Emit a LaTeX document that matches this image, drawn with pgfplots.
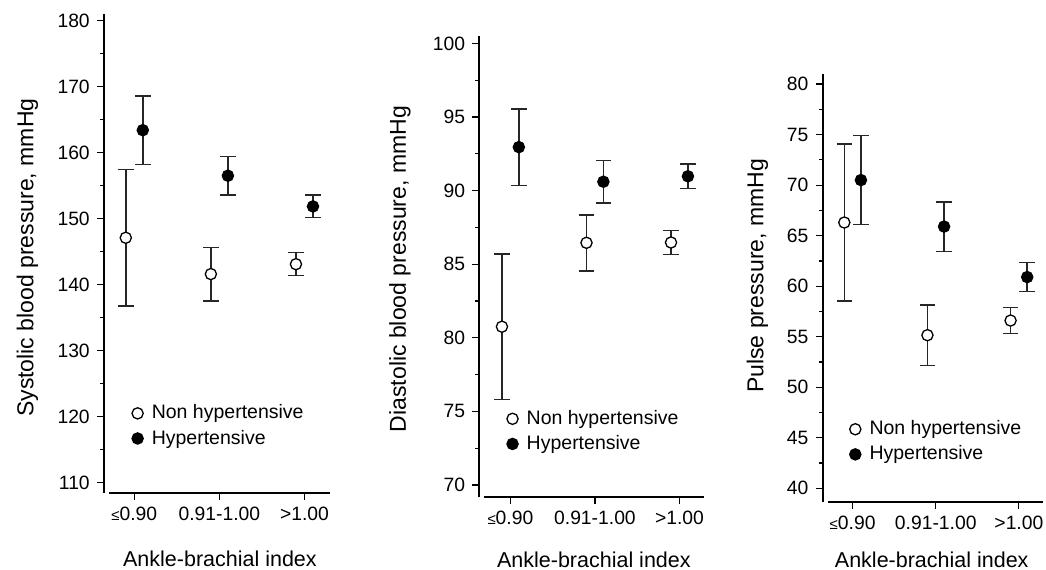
\documentclass[border=0pt]{standalone}
\usepackage{fontspec}
\setmainfont{Liberation Sans}
\usepackage{pgfplots}
\pgfplotsset{compat=1.18}
\pgfplotsset{
  abi/.style={
    scale only axis,
    axis x line*=bottom, axis y line*=left,
    x axis line style={line width=0.9pt, shorten <=2.5pt},
    y axis line style={line width=0.9pt},
    tick align=outside,
    major tick length=3.6pt, minor tick length=2pt,
    every tick/.style={black, line width=0.6pt},
    xtick={0,1,2},
    xticklabels={{\fontsize{7.5}{8}\selectfont ≤}0.90, 0.91-1.00, >1.00},
    minor y tick num=1,
    tick label style={font=\fontsize{9.65}{11}\selectfont},
    /pgf/number format/assume math mode=true,
    xlabel={Ankle-brachial index},
    xlabel style={font=\fontsize{10.75}{12}\selectfont, anchor=base},
    ylabel style={font=\fontsize{11.5}{13}\selectfont, anchor=center},
    legend cell align=left,
    legend style={draw=none, fill=none, inner sep=0pt, outer sep=0pt, anchor=west,
      font=\fontsize{9.75}{11}\selectfont, row sep=0pt, column sep=2.3pt},
    legend image code/.code={\draw[mark repeat=2,mark phase=2,#1] plot coordinates {(0pt,0pt)(3pt,0pt)(6pt,0pt)};},
    error bars/y dir=both, error bars/y explicit,
    error bars/error mark options={rotate=90, black!85, mark size=3.9pt, line width=0.75pt},
    error bars/error bar style={black!85, line width=0.75pt},
  },
  openm/.style={only marks, mark=*, mark size=2.8pt, mark options={fill=white, draw=black, line width=0.65pt}},
  fullm/.style={only marks, mark=*, mark size=2.8pt, mark options={fill=black, draw=black, line width=0.65pt}},
}
\begin{document}
\begin{tikzpicture}
\path[use as bounding box] (0,0) rectangle (523pt,284.5pt);

% Panel 1: Systolic
\begin{axis}[abi, at={(52pt,38.15pt)}, anchor=south west,
  width=113pt, height=239.35pt,
  xmin=-0.356, xmax=2.30, ymin=108.48, ymax=181.0,
  ytick={110,120,...,180},
  ylabel={Systolic blood pressure, mmHg},
  xlabel style={at={(axis description cs:0.513,-0.1552)}},
  ylabel style={at={(axis description cs:-0.3385,0.491)}},
  legend style={at={(axis description cs:0.124,0.1395)}},
]
\addplot[openm] table[x=x, y=y, y error=e] {
x y e
-0.1 147.1 10.35
0.9 141.6 4.05
1.9 143.1 1.75
};
\addplot[fullm] table[x=x, y=y, y error=e] {
x y e
0.1 163.4 5.2
1.1 156.5 2.9
2.1 151.85 1.7
};
\legend{Non hypertensive, Hypertensive}
\end{axis}

% Panel 2: Diastolic
\begin{axis}[abi, at={(239.65pt,36.15pt)}, anchor=south west,
  width=112.35pt, height=230.35pt,
  xmin=-0.368, xmax=2.29, ymin=69.2, ymax=100.5,
  ytick={70,75,...,100},
  ylabel={Diastolic blood pressure, mmHg},
  xlabel style={at={(axis description cs:0.51,-0.1526)}},
  ylabel style={at={(axis description cs:-0.353,0.494)}},
  legend style={at={(axis description cs:0.123,0.1418)}},
]
\addplot[openm] table[x=x, y=y, y error=e] {
x y e
-0.1 80.75 4.95
0.9 86.45 1.9
1.9 86.47 0.83
};
\addplot[fullm] table[x=x, y=y, y error=e] {
x y e
0.1 92.95 2.6
1.1 90.6 1.45
2.1 90.97 0.84
};
\legend{Non hypertensive, Hypertensive}
\end{axis}

% Panel 3: Pulse
\begin{axis}[abi, at={(411.35pt,33.65pt)}, anchor=south west,
  width=110.15pt, height=213.85pt,
  xmin=-0.36, xmax=2.29, ymin=38.67, ymax=81.0,
  ytick={40,45,...,80},
  ylabel={Pulse pressure, mmHg},
  xlabel style={at={(axis description cs:0.495,-0.1527)}},
  ylabel style={at={(axis description cs:-0.296,0.528)}},
  legend style={at={(axis description cs:0.1226,0.140)}},
]
\addplot[openm] table[x=x, y=y, y error=e] {
x y e
-0.1 66.3 7.75
0.9 55.15 3.0
1.9 56.6 1.3
};
\addplot[fullm] table[x=x, y=y, y error=e] {
x y e
0.1 70.5 4.4
1.1 65.9 2.45
2.1 60.9 1.43
};
\legend{Non hypertensive, Hypertensive}
\end{axis}
\end{tikzpicture}
\end{document}
